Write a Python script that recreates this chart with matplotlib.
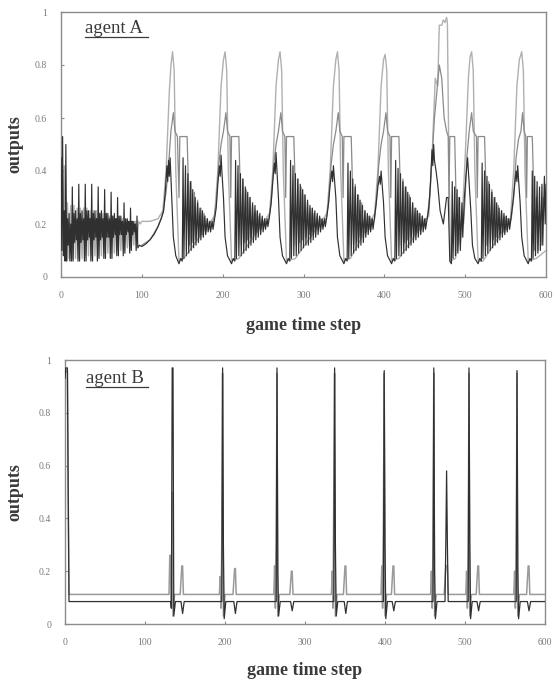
import matplotlib
matplotlib.use("Agg")
import matplotlib.pyplot as plt

# ---------------- data ----------------
x_ticks = [0, 100, 200, 300, 400, 500, 600]
x_tick_labels = ["0", "100", "200", "300", "400", "500", "600"]
y_ticks = [0, 0.2, 0.4, 0.6, 0.8, 1.0]
y_tick_labels = ["0", "0.2", "0.4", "0.6", "0.8", "1"]

# agent A : light-gray output (tall peaks)
a_light = [
    (0, 0.53), (2, 0.10), (4, 0.42), (6, 0.07), (8, 0.28), (10, 0.07), (12, 0.27), (14, 0.07),
    (16, 0.27), (18, 0.07), (20, 0.26), (22, 0.07), (24, 0.26), (26, 0.07), (28, 0.26), (30, 0.08),
    (32, 0.26), (34, 0.08), (36, 0.25), (38, 0.08), (40, 0.25), (42, 0.08), (44, 0.25), (46, 0.08),
    (48, 0.24), (50, 0.08), (52, 0.24), (54, 0.09), (56, 0.24), (58, 0.09), (60, 0.23), (62, 0.09),
    (64, 0.23), (66, 0.09), (68, 0.22), (70, 0.10), (72, 0.22), (74, 0.10), (76, 0.22), (78, 0.10),
    (80, 0.21), (82, 0.11), (84, 0.21), (86, 0.11), (88, 0.21), (90, 0.12), (92, 0.21), (94, 0.13),
    (96, 0.21), (98, 0.20), (100, 0.21), (110, 0.21), (120, 0.22), (126, 0.25),
    (130, 0.40), (134, 0.70), (136, 0.80), (138, 0.85), (140, 0.78), (142, 0.40), (146, 0.06), (152, 0.07),
    (190, 0.23), (194, 0.40), (198, 0.72), (201, 0.82), (203, 0.85), (205, 0.78), (207, 0.40), (211, 0.06), (220, 0.07),
    (258, 0.24), (262, 0.40), (266, 0.72), (269, 0.82), (271, 0.85), (273, 0.78), (275, 0.40), (279, 0.06), (290, 0.07),
    (329, 0.24), (333, 0.40), (337, 0.72), (340, 0.82), (342, 0.85), (344, 0.78), (346, 0.40), (350, 0.06), (358, 0.07),
    (388, 0.24), (392, 0.40), (396, 0.72), (399, 0.82), (401, 0.84), (403, 0.78), (405, 0.40), (409, 0.06), (418, 0.07),
    (455, 0.23), (459, 0.45), (463, 0.75), (466, 0.72), (468, 0.95), (471, 0.95), (473, 0.97), (475, 0.96),
    (477, 0.98), (478, 0.96), (480, 0.40), (482, 0.06), (488, 0.07),
    (496, 0.20), (500, 0.45), (504, 0.75), (506, 0.83), (508, 0.85), (510, 0.78), (512, 0.40), (516, 0.06), (522, 0.06),
    (556, 0.22), (560, 0.40), (564, 0.72), (567, 0.82), (570, 0.85), (572, 0.78), (574, 0.40), (578, 0.06), (588, 0.07),
    (600, 0.10),
]

# agent A : mid-gray output (plateau at ~0.53)
a_mid = [
    (100, 0.12), (110, 0.14), (120, 0.19), (126, 0.24), (130, 0.32), (133, 0.42), (136, 0.55), (139, 0.62),
    (141, 0.55), (144, 0.53), (146, 0.30), (147, 0.53), (156, 0.53), (157, 0.42),
    (159, 0.12), (161, 0.36), (163, 0.13), (165, 0.32), (167, 0.14), (169, 0.29), (171, 0.15), (173, 0.26),
    (175, 0.16), (177, 0.24), (179, 0.17), (181, 0.22), (183, 0.18), (185, 0.21), (187, 0.19), (189, 0.22),
    (192, 0.28), (195, 0.42), (198, 0.50), (201, 0.55), (204, 0.62), (206, 0.55), (209, 0.53), (210, 0.30),
    (211, 0.53), (220, 0.53), (221, 0.42),
    (223, 0.12), (225, 0.37), (227, 0.13), (229, 0.33), (231, 0.14), (233, 0.30), (235, 0.15), (237, 0.27),
    (239, 0.16), (241, 0.25), (243, 0.17), (245, 0.23), (247, 0.18), (249, 0.22), (251, 0.19), (253, 0.21),
    (255, 0.20), (257, 0.22),
    (260, 0.28), (263, 0.42), (266, 0.50), (269, 0.55), (272, 0.62), (274, 0.55), (277, 0.53), (278, 0.30),
    (279, 0.53), (288, 0.53), (289, 0.42),
    (291, 0.12), (293, 0.37), (295, 0.13), (297, 0.34), (299, 0.14), (301, 0.31), (303, 0.15), (305, 0.28),
    (307, 0.16), (309, 0.26), (311, 0.17), (313, 0.24), (315, 0.18), (317, 0.23), (319, 0.19), (321, 0.22),
    (323, 0.20), (325, 0.21), (328, 0.22),
    (331, 0.28), (334, 0.42), (337, 0.50), (340, 0.55), (343, 0.62), (345, 0.55), (348, 0.53), (349, 0.30),
    (350, 0.53), (359, 0.53), (360, 0.42),
    (362, 0.12), (364, 0.35), (366, 0.13), (368, 0.31), (370, 0.15), (372, 0.28), (374, 0.16), (376, 0.25),
    (378, 0.17), (380, 0.23), (382, 0.18), (384, 0.22), (386, 0.20), (388, 0.22),
    (390, 0.28), (393, 0.42), (396, 0.50), (399, 0.55), (402, 0.62), (404, 0.55), (407, 0.53), (408, 0.30),
    (409, 0.53), (418, 0.53), (419, 0.42),
    (421, 0.12), (423, 0.37), (425, 0.13), (427, 0.34), (429, 0.14), (431, 0.31), (433, 0.15), (435, 0.28),
    (437, 0.16), (439, 0.26), (441, 0.17), (443, 0.24), (445, 0.18), (447, 0.23), (449, 0.19), (451, 0.22),
    (453, 0.22),
    (456, 0.30), (459, 0.45), (462, 0.60), (465, 0.70), (468, 0.80), (471, 0.75), (474, 0.60), (477, 0.55),
    (479, 0.53), (480, 0.30), (481, 0.53), (487, 0.53), (488, 0.40),
    (490, 0.10), (492, 0.30), (494, 0.12), (496, 0.25), (498, 0.20),
    (500, 0.30), (502, 0.45), (505, 0.55), (508, 0.62), (510, 0.55), (514, 0.53), (515, 0.30), (516, 0.53),
    (524, 0.53), (525, 0.42),
    (527, 0.12), (529, 0.36), (531, 0.13), (533, 0.33), (535, 0.14), (537, 0.30), (539, 0.15), (541, 0.27),
    (543, 0.16), (545, 0.25), (547, 0.17), (549, 0.23), (551, 0.18), (553, 0.22), (555, 0.20), (557, 0.22),
    (560, 0.30), (563, 0.45), (566, 0.52), (569, 0.55), (571, 0.62), (573, 0.55), (575, 0.53), (576, 0.30),
    (577, 0.53), (583, 0.53), (584, 0.42),
    (586, 0.10), (588, 0.30), (590, 0.10), (592, 0.25), (594, 0.12), (597, 0.30), (600, 0.28),
]

# agent A : dark output (fast oscillation)
a_dark = [
    (0, 0.45), (1, 0.10), (2, 0.53), (3, 0.08), (4, 0.25), (5, 0.06), (6, 0.50), (7, 0.06), (8, 0.22),
    (9, 0.12), (10, 0.24), (11, 0.06), (12, 0.20), (13, 0.06), (14, 0.34), (15, 0.06), (16, 0.24),
    (17, 0.13), (18, 0.25), (19, 0.14), (20, 0.22), (21, 0.06), (22, 0.35), (23, 0.06), (24, 0.24),
    (25, 0.13), (26, 0.25), (27, 0.14), (28, 0.22), (29, 0.06), (30, 0.35), (31, 0.06), (32, 0.25),
    (33, 0.14), (34, 0.25), (35, 0.15), (36, 0.22), (37, 0.06), (38, 0.35), (39, 0.06), (40, 0.24),
    (41, 0.14), (42, 0.25), (43, 0.15), (44, 0.22), (45, 0.06), (46, 0.34), (47, 0.07), (48, 0.24),
    (49, 0.14), (50, 0.25), (51, 0.15), (52, 0.22), (53, 0.07), (54, 0.33), (55, 0.07), (56, 0.24),
    (57, 0.15), (58, 0.24), (59, 0.15), (60, 0.22), (61, 0.07), (62, 0.32), (63, 0.07), (64, 0.23),
    (65, 0.15), (66, 0.24), (67, 0.16), (68, 0.22), (69, 0.08), (70, 0.30), (71, 0.08), (72, 0.23),
    (73, 0.16), (74, 0.23), (75, 0.16), (76, 0.21), (77, 0.08), (78, 0.28), (79, 0.09), (80, 0.22),
    (81, 0.16), (82, 0.22), (83, 0.17), (84, 0.21), (85, 0.09), (86, 0.26), (87, 0.10), (88, 0.21),
    (89, 0.16), (90, 0.21), (91, 0.17), (92, 0.20), (93, 0.10), (94, 0.23), (95, 0.11), (97, 0.12),
    (100, 0.115), (105, 0.125), (110, 0.14), (115, 0.16), (120, 0.19), (124, 0.22), (127, 0.25),
    (129, 0.32), (131, 0.42), (132, 0.36), (133, 0.44), (134, 0.38), (135, 0.45), (137, 0.30),
    (139, 0.15), (142, 0.08), (146, 0.05), (148, 0.07), (150, 0.06),
    (151, 0.45), (152, 0.07), (154, 0.42), (155, 0.08), (157, 0.39), (158, 0.09), (160, 0.36), (161, 0.10),
    (163, 0.33), (164, 0.11), (166, 0.30), (167, 0.12), (169, 0.28), (170, 0.13), (172, 0.26), (173, 0.14),
    (175, 0.25), (176, 0.15), (178, 0.23), (179, 0.16), (181, 0.22), (182, 0.17), (184, 0.21), (185, 0.17),
    (187, 0.21), (188, 0.18),
    (190, 0.22), (192, 0.26), (194, 0.35), (196, 0.42), (197, 0.38), (198, 0.46), (199, 0.40), (201, 0.30),
    (203, 0.15), (206, 0.08), (211, 0.05), (213, 0.07), (215, 0.06),
    (216, 0.44), (217, 0.07), (219, 0.42), (220, 0.08), (222, 0.39), (223, 0.08), (225, 0.37), (226, 0.09),
    (228, 0.34), (229, 0.10), (231, 0.32), (232, 0.11), (234, 0.30), (235, 0.12), (237, 0.28), (238, 0.13),
    (240, 0.27), (241, 0.14), (243, 0.25), (244, 0.15), (246, 0.24), (247, 0.16), (249, 0.23), (250, 0.17),
    (252, 0.22), (253, 0.18), (255, 0.22), (256, 0.19),
    (258, 0.23), (260, 0.28), (262, 0.36), (264, 0.43), (265, 0.39), (266, 0.47), (267, 0.41), (269, 0.30),
    (271, 0.15), (274, 0.08), (279, 0.05), (281, 0.07), (283, 0.06),
    (284, 0.44), (285, 0.07), (287, 0.42), (288, 0.08), (290, 0.39), (291, 0.08), (293, 0.37), (294, 0.09),
    (296, 0.35), (297, 0.10), (299, 0.33), (300, 0.11), (302, 0.31), (303, 0.12), (305, 0.29), (306, 0.12),
    (308, 0.27), (309, 0.13), (311, 0.26), (312, 0.14), (314, 0.25), (315, 0.15), (317, 0.24), (318, 0.16),
    (320, 0.23), (321, 0.17), (323, 0.22), (324, 0.18), (326, 0.22), (327, 0.19),
    (329, 0.23), (331, 0.28), (333, 0.35), (335, 0.40), (336, 0.36), (337, 0.42), (338, 0.38), (340, 0.30),
    (342, 0.15), (345, 0.08), (350, 0.05), (352, 0.07), (354, 0.06),
    (355, 0.43), (356, 0.07), (358, 0.40), (359, 0.08), (361, 0.37), (362, 0.09), (364, 0.34), (365, 0.10),
    (367, 0.31), (368, 0.11), (370, 0.29), (371, 0.12), (373, 0.27), (374, 0.13), (376, 0.25), (377, 0.15),
    (379, 0.24), (380, 0.16), (382, 0.23), (383, 0.17), (385, 0.22), (386, 0.18),
    (388, 0.23), (390, 0.28), (392, 0.34), (394, 0.38), (395, 0.35), (396, 0.40), (397, 0.36), (399, 0.28),
    (401, 0.15), (404, 0.08), (409, 0.05), (411, 0.07), (413, 0.06),
    (414, 0.44), (415, 0.07), (417, 0.41), (418, 0.08), (420, 0.39), (421, 0.08), (423, 0.36), (424, 0.09),
    (426, 0.34), (427, 0.10), (429, 0.32), (430, 0.11), (432, 0.30), (433, 0.12), (435, 0.28), (436, 0.13),
    (438, 0.26), (439, 0.14), (441, 0.25), (442, 0.15), (444, 0.24), (445, 0.16), (447, 0.23), (448, 0.17),
    (450, 0.22), (451, 0.18),
    (453, 0.22), (455, 0.26), (457, 0.35), (459, 0.48), (460, 0.42), (461, 0.50), (462, 0.44), (464, 0.40),
    (466, 0.35), (469, 0.25), (473, 0.20), (477, 0.30), (479, 0.30), (481, 0.06), (483, 0.05),
    (484, 0.36), (485, 0.07), (487, 0.34), (488, 0.08), (490, 0.33), (491, 0.09), (493, 0.30), (494, 0.10),
    (496, 0.28), (497, 0.15),
    (499, 0.30), (501, 0.38), (503, 0.45), (504, 0.40), (505, 0.35), (507, 0.25), (509, 0.12), (512, 0.07),
    (516, 0.05), (518, 0.07), (520, 0.06),
    (521, 0.43), (522, 0.07), (524, 0.40), (525, 0.08), (527, 0.38), (528, 0.09), (530, 0.35), (531, 0.10),
    (533, 0.32), (534, 0.11), (536, 0.30), (537, 0.12), (539, 0.28), (540, 0.13), (542, 0.26), (543, 0.14),
    (545, 0.25), (546, 0.15), (548, 0.24), (549, 0.16), (551, 0.23), (552, 0.17), (554, 0.22), (555, 0.18),
    (557, 0.23), (559, 0.28), (561, 0.34), (563, 0.40), (564, 0.36), (565, 0.42), (566, 0.37), (568, 0.28),
    (570, 0.15), (573, 0.08), (578, 0.05), (580, 0.07), (582, 0.06),
    (583, 0.40), (584, 0.07), (586, 0.38), (587, 0.08), (589, 0.36), (590, 0.09), (592, 0.34), (593, 0.10),
    (595, 0.35), (596, 0.12), (598, 0.38), (599, 0.20), (600, 0.35),
]

# agent B : light-gray output (baseline ~0.11)
b_light = [
    (0, 0.95), (3, 0.96), (4, 0.50), (5, 0.112),
    (130, 0.112), (131, 0.26), (132, 0.26), (133, 0.06), (134, 0.50), (135, 0.03), (137, 0.112),
    (144, 0.112), (146, 0.22), (147, 0.22), (148, 0.112),
    (193, 0.112), (194, 0.18), (195, 0.06), (196, 0.30), (197, 0.95), (198, 0.03), (200, 0.112),
    (210, 0.112), (212, 0.21), (213, 0.21), (214, 0.112),
    (261, 0.112), (262, 0.22), (263, 0.06), (264, 0.30), (265, 0.95), (266, 0.03), (268, 0.112),
    (281, 0.112), (283, 0.20), (284, 0.20), (285, 0.112),
    (333, 0.112), (334, 0.20), (335, 0.06), (336, 0.51), (337, 0.95), (338, 0.03), (340, 0.112),
    (348, 0.112), (350, 0.22), (351, 0.22), (352, 0.112),
    (395, 0.112), (396, 0.22), (397, 0.06), (398, 0.40), (399, 0.95), (400, 0.03), (402, 0.112),
    (408, 0.112), (410, 0.22), (411, 0.22), (412, 0.112),
    (457, 0.112), (458, 0.20), (459, 0.06), (460, 0.30), (461, 0.95), (462, 0.03), (464, 0.112),
    (474, 0.112), (476, 0.22), (478, 0.22), (479, 0.112),
    (501, 0.112), (502, 0.20), (503, 0.06), (504, 0.27), (505, 0.95), (506, 0.03), (508, 0.112),
    (514, 0.112), (516, 0.22), (517, 0.22), (518, 0.112),
    (561, 0.112), (562, 0.20), (563, 0.06), (564, 0.25), (565, 0.95), (566, 0.03), (568, 0.112),
    (577, 0.112), (579, 0.22), (580, 0.22), (581, 0.112),
    (600, 0.112),
]

# agent B : dark output (baseline ~0.085)
b_dark = [
    (0, 0.93), (1, 0.97), (3, 0.97), (4, 0.50), (5, 0.085),
    (132, 0.085), (133, 0.06), (134, 0.97), (135, 0.97), (136, 0.03), (138, 0.085),
    (145, 0.085), (147, 0.04), (149, 0.085),
    (196, 0.085), (197, 0.97), (198, 0.30), (199, 0.02), (201, 0.085),
    (211, 0.085), (213, 0.04), (215, 0.085),
    (264, 0.085), (265, 0.97), (266, 0.20), (267, 0.03), (269, 0.085),
    (282, 0.085), (284, 0.05), (286, 0.085),
    (336, 0.085), (337, 0.97), (338, 0.30), (339, 0.03), (341, 0.085),
    (349, 0.085), (351, 0.04), (353, 0.085),
    (398, 0.085), (399, 0.96), (400, 0.30), (401, 0.02), (403, 0.085),
    (409, 0.085), (411, 0.05), (413, 0.085),
    (460, 0.085), (461, 0.97), (462, 0.20), (463, 0.02), (465, 0.085),
    (475, 0.085), (476, 0.30), (477, 0.58), (478, 0.30), (479, 0.085),
    (504, 0.085), (505, 0.97), (506, 0.30), (507, 0.02), (509, 0.085),
    (515, 0.085), (517, 0.05), (519, 0.085),
    (564, 0.085), (565, 0.96), (566, 0.20), (567, 0.02), (569, 0.085),
    (578, 0.085), (580, 0.05), (582, 0.085),
    (600, 0.085),
]

# ---------------- drawing ----------------
SERIF = ["Liberation Serif", "DejaVu Serif"]
SPINE = "#8c8c8c"
TICKC = "#7a7a7a"
TXT = "#3a3a3a"

fig = plt.figure(figsize=(5.53, 6.84), dpi=100)
W, H = 553.0, 684.0
ax1 = fig.add_axes([61 / W, 1 - 277 / H, (546 - 61) / W, (277 - 12) / H])
ax2 = fig.add_axes([65 / W, 1 - 624 / H, (545 - 65) / W, (624 - 360) / H])


def unzip(pts):
    return [p[0] for p in pts], [p[1] for p in pts]


def style(ax):
    ax.set_xlim(0, 600)
    ax.set_ylim(0, 1)
    ax.set_xticks(x_ticks)
    ax.set_xticklabels(x_tick_labels)
    ax.set_yticks(y_ticks)
    ax.set_yticklabels(y_tick_labels)
    for s in ax.spines.values():
        s.set_color(SPINE)
        s.set_linewidth(1.0)
    ax.tick_params(direction="in", length=2.5, width=0.8, color=SPINE,
                   labelsize=7, labelcolor=TICKC)
    ax.tick_params(axis="x", pad=10)
    ax.tick_params(axis="y", pad=10)
    for lab in ax.get_xticklabels() + ax.get_yticklabels():
        lab.set_family(SERIF)
    ax.set_xlabel("game time step", fontsize=13, fontweight="bold",
                  family=SERIF, color=TXT)
    ax.set_ylabel("outputs", fontsize=13, fontweight="bold",
                  family=SERIF, color=TXT)


# agent A
x, y = unzip(a_light)
ax1.plot(x, y, color="#b0b0b0", lw=1.0, zorder=2)
x, y = unzip(a_mid)
ax1.plot(x, y, color="#8a8a8a", lw=0.9, zorder=3)
x, y = unzip(a_dark)
ax1.plot(x, y, color="#303030", lw=0.85, zorder=4)
style(ax1)
ax1.xaxis.set_label_coords(0.5, (277 - 317) / 265)
ax1.yaxis.set_label_coords((23 - 61) / 485, 0.5)
ax1.text(0.049, 0.92, "agent A", transform=ax1.transAxes, fontsize=13.5,
         family=SERIF, color=TXT, va="baseline", ha="left")
ax1.plot([0.049, 0.179], [0.905, 0.905], transform=ax1.transAxes,
         color=TXT, lw=0.9)

# agent B
x, y = unzip(b_light)
ax2.plot(x, y, color="#9a9a9a", lw=1.1, zorder=2)
x, y = unzip(b_dark)
ax2.plot(x, y, color="#303030", lw=0.9, zorder=3)
style(ax2)
ax2.xaxis.set_label_coords(0.5, (624 - 662) / 264)
ax2.yaxis.set_label_coords((23 - 65) / 480, 0.5)
ax2.text(0.044, 0.913, "agent B", transform=ax2.transAxes, fontsize=13.5,
         family=SERIF, color=TXT, va="baseline", ha="left")
ax2.plot([0.044, 0.173], [0.898, 0.898], transform=ax2.transAxes,
         color=TXT, lw=0.9)

fig.savefig("out.png", dpi=100)
